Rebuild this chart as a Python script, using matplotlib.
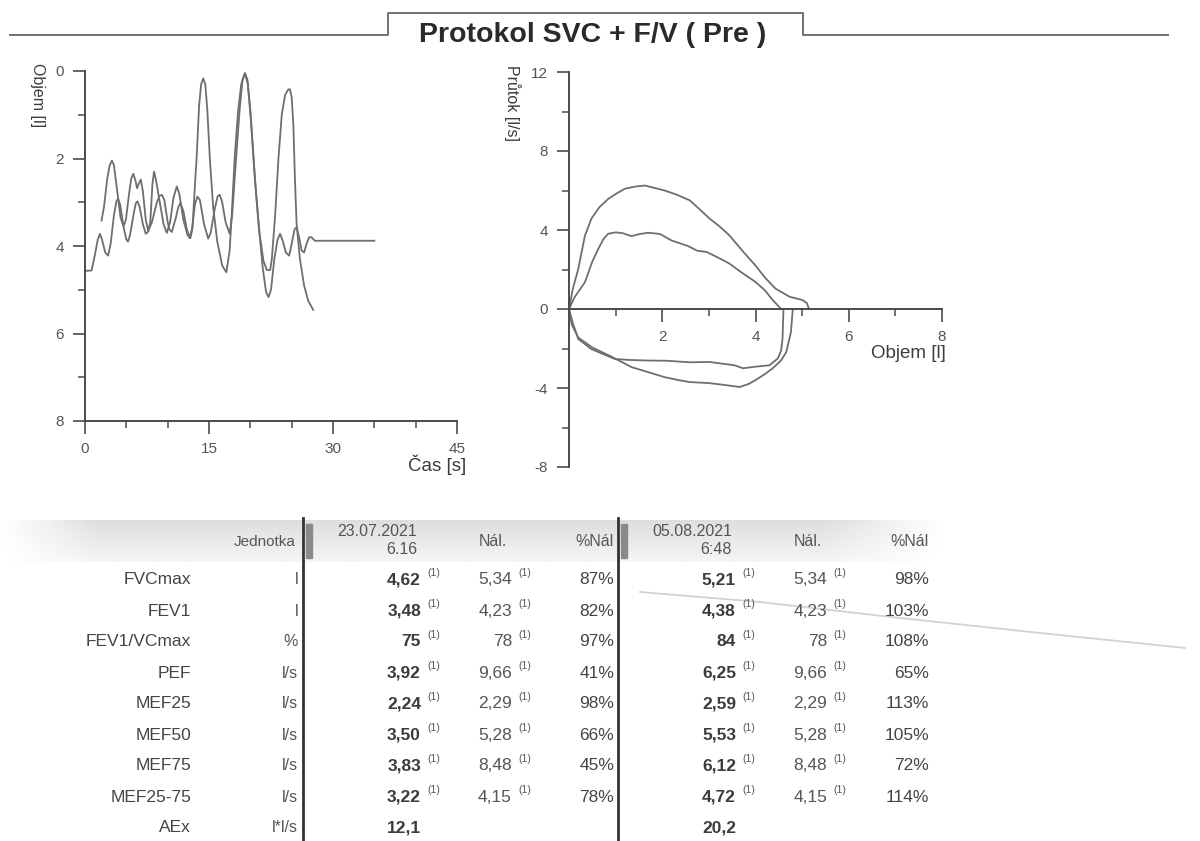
import matplotlib
matplotlib.use("Agg")
import matplotlib.pyplot as plt
import numpy as np

plt.rcParams["font.family"] = ["Liberation Sans", "DejaVu Sans"]
plt.rcParams["axes.unicode_minus"] = False

# --------------------------------------------------
# ------------- Objem / cas (SVC + F/V) ------------
# --------------------------------------------------
t_svc = [0.0, 0.8, 1.2, 1.55, 1.8, 2.05, 2.45, 2.8, 3.1, 3.5, 3.8, 4.0, 4.25, 4.7,
         5.0, 5.2, 5.45, 5.9, 6.15, 6.35, 6.6, 7.0, 7.35, 7.6, 8.1, 8.7, 9.0, 9.3,
         9.6, 10.0, 10.2, 10.5, 11.0, 11.3, 11.55, 11.9, 12.3, 12.65, 12.95, 13.3,
         13.6, 13.9, 14.4, 14.9, 15.2, 15.7, 16.05, 16.3, 16.6, 17.0, 17.5, 17.8,
         18.2, 18.7, 19.05, 19.35, 19.65, 20.0, 20.5, 21.0, 21.5, 21.9, 22.2, 22.5,
         22.9, 23.3, 23.6, 23.95, 24.3, 24.7, 25.0, 25.35, 25.6, 25.9, 26.2, 26.5,
         26.8, 27.1, 27.4, 27.8, 35.0]
v_svc = [4.57, 4.56, 4.2, 3.85, 3.72, 3.85, 4.15, 4.22, 3.95, 3.3, 2.98, 2.92, 3.05, 3.6,
         3.85, 3.9, 3.75, 3.25, 3.02, 2.98, 3.1, 3.5, 3.72, 3.68, 3.45, 3.0, 2.86, 2.83,
         2.95, 3.45, 3.62, 3.68, 3.35, 3.1, 3.02, 3.2, 3.6, 3.82, 3.6, 3.05,
         2.87, 2.95, 3.5, 3.83, 3.7, 3.15, 2.86, 2.83, 3.0, 3.45, 3.72, 3.3,
         2.2, 0.9, 0.2, 0.05, 0.2, 0.9, 2.3, 3.5, 4.5, 5.05, 5.17, 5.0,
         4.3, 3.85, 3.72, 3.9, 4.15, 4.22, 3.95, 3.62, 3.57, 3.8, 4.1, 4.15,
         3.95, 3.8, 3.8, 3.88, 3.88]

t_fv = [2.0, 2.3, 2.7, 3.0, 3.25, 3.5, 3.9, 4.3, 4.65, 4.95, 5.3, 5.6, 5.85, 6.1,
        6.3, 6.5, 6.75, 7.0, 7.35, 7.65, 7.9, 8.15, 8.35, 8.6, 9.0, 9.5, 9.9, 10.3,
        10.7, 11.1, 11.4, 11.9, 12.4, 12.75, 13.0, 13.3, 13.5, 13.8, 14.05, 14.3,
        14.55, 14.8, 15.1, 15.5, 16.0, 16.6, 17.1, 17.5, 17.8, 18.1, 18.5, 18.9,
        19.35, 19.7, 20.1, 20.6, 21.1, 21.6, 22.0, 22.4, 22.6, 23.0, 23.4, 23.8,
        24.2, 24.6, 24.8, 25.0, 25.2, 25.4, 25.6, 26.0, 26.5, 27.0, 27.6]
v_fv = [3.42, 3.1, 2.45, 2.15, 2.05, 2.15, 2.75, 3.35, 3.55, 3.4, 2.85, 2.45, 2.35, 2.5,
        2.68, 2.58, 2.48, 2.75, 3.4, 3.66, 3.45, 2.6, 2.3, 2.5, 2.95, 3.5, 3.7, 3.45,
        2.9, 2.64, 2.8, 3.4, 3.75, 3.82, 3.6, 2.6, 2.0, 0.8, 0.3, 0.17,
        0.3, 0.9, 2.0, 3.1, 3.9, 4.45, 4.6, 4.1, 3.1, 2.0, 0.95, 0.3,
        0.05, 0.3, 1.2, 2.6, 3.7, 4.35, 4.55, 4.55, 4.3, 3.3, 2.0, 1.0,
        0.55, 0.42, 0.42, 0.6, 1.2, 2.5, 3.5, 4.3, 4.9, 5.25, 5.46]

# --------------------------------------------------
# ------------- Prutok / objem (smycky) ------------
# --------------------------------------------------
vol_exp1 = [0, 0.08, 0.2, 0.34, 0.48, 0.65, 0.84, 1.02, 1.2, 1.42, 1.63, 1.85, 2.05, 2.3,
            2.59, 2.8, 3.02, 3.22, 3.44, 3.7, 4.0, 4.2, 4.43, 4.6, 4.73, 4.9, 5.01, 5.1, 5.15]
flow_exp1 = [0, 1.0, 2.04, 3.7, 4.57, 5.15, 5.57, 5.85, 6.09, 6.2, 6.25, 6.12, 6.0, 5.8,
             5.5, 5.05, 4.57, 4.2, 3.73, 3.0, 2.2, 1.6, 1.03, 0.8, 0.62, 0.52, 0.45, 0.3, 0.0]

vol_exp2 = [0, 0.12, 0.34, 0.5, 0.63, 0.74, 0.84, 1.0, 1.15, 1.34, 1.52, 1.70, 1.95, 2.2,
            2.55, 2.75, 2.95, 3.2, 3.44, 3.7, 4.0, 4.2, 4.37, 4.55]
flow_exp2 = [0, 0.6, 1.35, 2.4, 3.05, 3.55, 3.81, 3.88, 3.84, 3.69, 3.8, 3.86, 3.8, 3.47,
             3.19, 2.95, 2.89, 2.6, 2.3, 1.85, 1.37, 0.95, 0.45, 0.0]

vol_insp1 = [0, 0.08, 0.2, 0.48, 0.98, 1.3, 1.7, 2.1, 2.59, 3.0, 3.3, 3.55, 3.73, 4.0,
             4.3, 4.48, 4.55, 4.58, 4.6]
flow_insp1 = [0, -0.7, -1.52, -2.03, -2.53, -2.58, -2.61, -2.62, -2.7, -2.68, -2.77, -2.85,
              -3.0, -2.92, -2.85, -2.5, -2.1, -1.5, 0]

vol_insp2 = [0, 0.06, 0.2, 0.5, 0.9, 1.34, 1.7, 2.05, 2.35, 2.59, 3.0, 3.35, 3.66, 3.85,
             4.0, 4.2, 4.37, 4.55, 4.66, 4.76, 4.8]
flow_insp2 = [0, -0.8, -1.45, -1.95, -2.4, -2.94, -3.2, -3.45, -3.6, -3.7, -3.75, -3.85,
              -3.95, -3.8, -3.6, -3.3, -3.0, -2.6, -2.18, -1.17, 0]

# --------------------------------------------------
# -------------------- Tabulka ---------------------
# --------------------------------------------------
params = ["FVCmax", "FEV1", "FEV1/VCmax", "PEF", "MEF25", "MEF50", "MEF75", "MEF25-75", "AEx"]
units = ["l", "l", "%", "l/s", "l/s", "l/s", "l/s", "l/s", "l*l/s"]
val_1 = ["4,62", "3,48", "75", "3,92", "2,24", "3,50", "3,83", "3,22", "12,1"]
pred = ["5,34", "4,23", "78", "9,66", "2,29", "5,28", "8,48", "4,15", ""]
pct_1 = ["87%", "82%", "97%", "41%", "98%", "66%", "45%", "78%", ""]
val_2 = ["5,21", "4,38", "84", "6,25", "2,59", "5,53", "6,12", "4,72", "20,2"]
pct_2 = ["98%", "103%", "108%", "65%", "113%", "105%", "72%", "114%", ""]
dates = [("23.07.2021", "6.16"), ("05.08.2021", "6:48")]

W, H = 1200, 841
LINE = "#6e6e6e"
AX = "#4a4a4a"
TXT = "#3c3c3c"

fig = plt.figure(figsize=(W / 100, H / 100), dpi=100)
fig.patch.set_facecolor("white")

# podklad v pixelech (titulek + tabulka)
bg = fig.add_axes([0, 0, 1, 1])
bg.set_xlim(0, W)
bg.set_ylim(H, 0)
bg.axis("off")

bg.plot([10, 388, 388, 803, 803, 1168], [35, 35, 13, 13, 35, 35], color="#707070", lw=1.4)
bg.text(593, 35, "Protokol SVC + F/V ( Pre )", fontsize=20.5, fontweight="bold",
        color="#2a2a2a", ha="center", va="center")

# sedy pruh za hlavickou tabulky
grad = np.linspace(0.87, 0.96, 40)[:, None] * np.ones((1, 200))
fade = np.clip(np.linspace(0, 10, 200), 0, 1)[None, :] * np.clip(np.linspace(8, 0, 200), 0, 1)[None, :]
band = 1 - (1 - grad) * fade
bg.imshow(band, cmap="gray", vmin=0, vmax=1, extent=[0, 945, 562, 520], aspect="auto", zorder=0)

# --------------------------------------------------
# ---------------- Graf objem / cas ----------------
# --------------------------------------------------
ax1 = fig.add_axes([85 / W, 1 - 421 / H, 372 / W, 350 / H])
ax1.patch.set_alpha(0)
ax1.plot(t_svc, v_svc, color=LINE, lw=1.3, solid_joinstyle="round")
ax1.plot(t_fv, v_fv, color=LINE, lw=1.3, solid_joinstyle="round")
ax1.set_xlim(0, 45)
ax1.set_ylim(8, 0)
ax1.set_xticks([0, 15, 30, 45])
ax1.set_xticks([5, 10, 20, 25, 35, 40], minor=True)
ax1.set_yticks([0, 2, 4, 6, 8])
ax1.set_yticks([1, 3, 5, 7], minor=True)
for s in ["top", "right"]:
    ax1.spines[s].set_visible(False)
for s in ["left", "bottom"]:
    ax1.spines[s].set_color(AX)
    ax1.spines[s].set_linewidth(1.4)
ax1.tick_params(which="major", length=9, width=1.2, color=AX, labelsize=11,
                labelcolor="#555555", pad=6)
ax1.tick_params(which="minor", length=5, width=1.1, color=AX)
bg.text(37, 63, "Objem [l]", rotation=-90, ha="center", va="top", fontsize=11.5, color=TXT)
bg.text(466, 465, "Čas [s]", ha="right", va="center", fontsize=13.5, color=TXT)

# --------------------------------------------------
# --------------- Graf prutok / objem --------------
# --------------------------------------------------
ax2 = fig.add_axes([569 / W, 1 - 467 / H, 373 / W, 395 / H])
ax2.patch.set_alpha(0)
ax2.plot(vol_exp1, flow_exp1, color=LINE, lw=1.3, solid_joinstyle="round")
ax2.plot(vol_exp2, flow_exp2, color=LINE, lw=1.3, solid_joinstyle="round")
ax2.plot(vol_insp1, flow_insp1, color=LINE, lw=1.3, solid_joinstyle="round")
ax2.plot(vol_insp2, flow_insp2, color=LINE, lw=1.3, solid_joinstyle="round")
ax2.set_xlim(0, 8)
ax2.set_ylim(-8, 12)
ax2.set_xticks([2, 4, 6, 8])
ax2.set_xticks([1, 3, 5, 7], minor=True)
ax2.set_yticks([-8, -4, 0, 4, 8, 12])
ax2.set_yticks([-6, -2, 2, 6, 10], minor=True)
ax2.spines["bottom"].set_position(("data", 0))
for s in ["top", "right"]:
    ax2.spines[s].set_visible(False)
for s in ["left", "bottom"]:
    ax2.spines[s].set_color(AX)
    ax2.spines[s].set_linewidth(1.4)
ax2.tick_params(which="major", length=9, width=1.2, color=AX, labelsize=11,
                labelcolor="#555555", pad=6)
ax2.tick_params(which="minor", length=5, width=1.1, color=AX)
bg.text(512, 65, "Průtok [l/s]", rotation=-90, ha="center", va="top", fontsize=11.5, color=TXT)
bg.text(946, 353, "Objem [l]", ha="right", va="center", fontsize=13.5, color=TXT)

# --------------------------------------------------
# -------------------- Tabulka ---------------------
# --------------------------------------------------
fs = 12.5
row_y = [580 + 31 * i for i in range(len(params))]
head_y = 542

bg.text(296, head_y, "Jednotka", ha="right", va="center", fontsize=11, color="#555555")
for i, p in enumerate(params):
    bg.text(191, row_y[i], p, ha="right", va="center", fontsize=fs, color="#444444")
    bg.text(298, row_y[i], units[i], ha="right", va="center", fontsize=fs - 1, color="#555555")

blocks = [(303, val_1, pct_1), (618, val_2, pct_2)]
for (L, vals, pcts), (d, tm) in zip(blocks, dates):
    bg.plot([L, L], [518, H], color="#333333", lw=2.0)
    bg.add_patch(plt.Rectangle((L + 3, 524), 6, 34, color="#8a8a8a", zorder=3))
    bg.text(L + 114, 532, d, ha="right", va="center", fontsize=11.5, color="#555555")
    bg.text(L + 114, 549, tm, ha="right", va="center", fontsize=11.5, color="#555555")
    bg.text(L + 190, head_y, "Nál.", ha="center", va="center", fontsize=11.5, color="#555555")
    bg.text(L + 311, head_y, "%Nál", ha="right", va="center", fontsize=11.5, color="#555555")
    for i in range(len(params)):
        y = row_y[i]
        bg.text(L + 118, y, vals[i], ha="right", va="center", fontsize=fs,
                fontweight="bold", color=TXT)
        if pred[i]:
            bg.text(L + 124, y - 7, "(1)", ha="left", va="center", fontsize=7.5, color="#555555")
            bg.text(L + 209, y, pred[i], ha="right", va="center", fontsize=fs, color="#555555")
            bg.text(L + 215, y - 7, "(1)", ha="left", va="center", fontsize=7.5, color="#555555")
        if pcts[i]:
            bg.text(L + 311, y, pcts[i], ha="right", va="center", fontsize=fs, color="#444444")

# prelozeny papir (sken)
bg.plot([640, 760, 900, 1050, 1185], [592, 602, 618, 634, 648], color="#d2d2d2", lw=1.3, zorder=0)

fig.savefig("out.png", dpi=100, facecolor="white")
